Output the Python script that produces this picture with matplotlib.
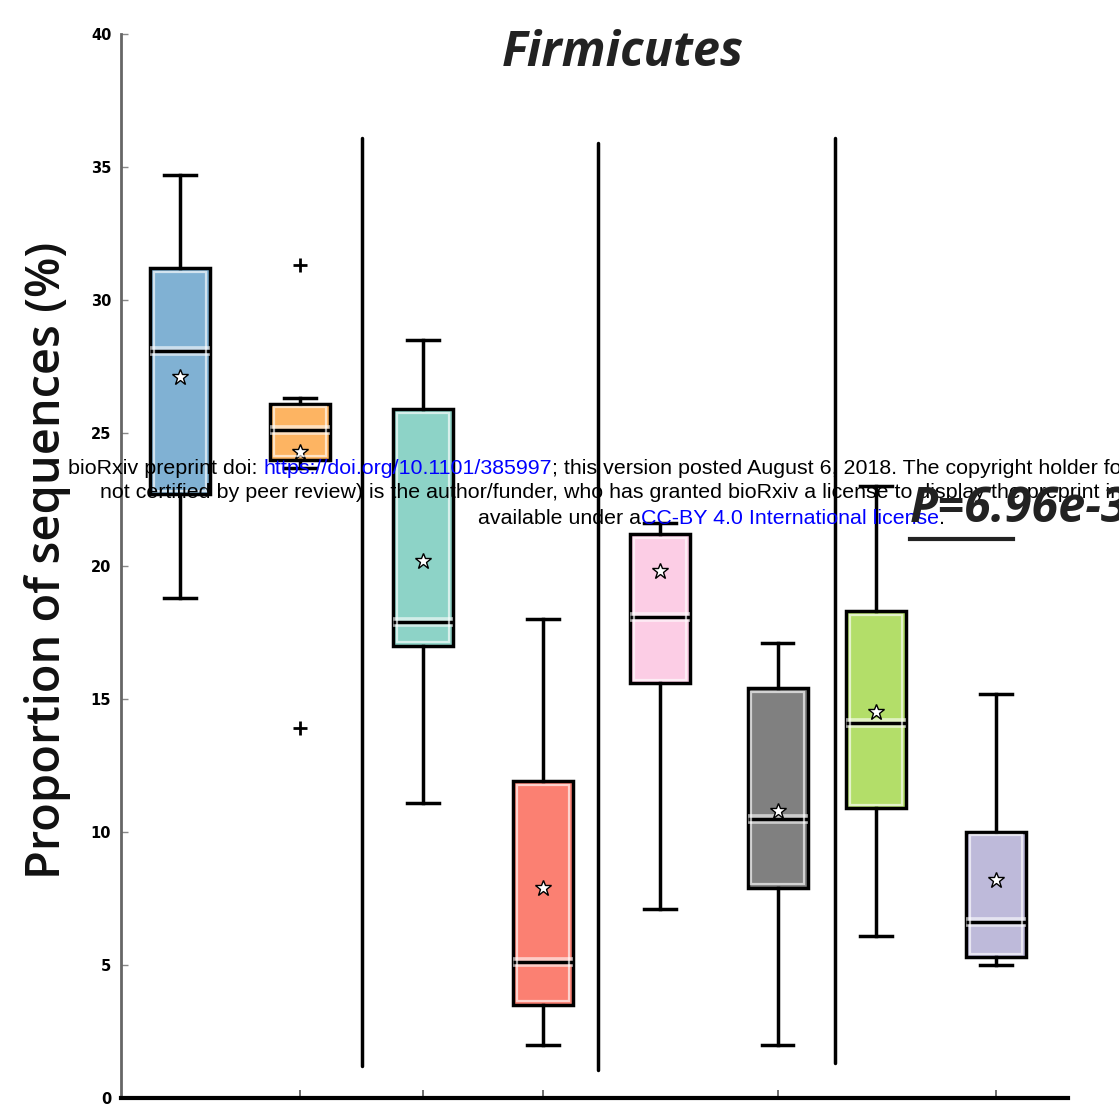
import matplotlib
matplotlib.use('Agg')
import matplotlib.pyplot as plt
import matplotlib.patheffects as pe
from matplotlib.lines import Line2D
from matplotlib.patches import Rectangle

# box statistics (% of sequences)
box_colors = ['#80b1d3', '#fdb462', '#8dd3c7', '#fb8072',
              '#fccde5', '#808080', '#b3de69', '#bebada']
medians = [28.1, 25.1, 17.9, 5.1, 18.1, 10.5, 14.1, 6.6]
q1 = [22.7, 24.0, 17.0, 3.5, 15.6, 7.9, 10.9, 5.3]
q3 = [31.2, 26.1, 25.9, 11.9, 21.2, 15.4, 18.3, 10.0]
whislo = [18.8, 23.7, 11.1, 2.0, 7.1, 2.0, 6.1, 5.0]
whishi = [34.7, 26.3, 28.5, 18.0, 21.6, 17.1, 23.0, 15.2]
means = [27.1, 24.3, 20.2, 7.9, 19.8, 10.8, 14.5, 8.2]
fliers = [[], [31.3, 13.9], [], [], [], [], [], []]

yticks = [0, 5, 10, 15, 20, 25, 30, 35, 40]
p_text = 'P=6.96e-3'

# layout (not data)
positions = [1, 2, 3.025, 4.025, 5, 5.98, 6.8, 7.8]
tick_pos = [2, 3.025, 4.025, 5.98, 7.8]
separators = [(2.517, 1.2, 36.1), (4.483, 1.05, 35.9), (6.458, 1.3, 36.1)]

fig = plt.figure(figsize=(11.19, 11.05), dpi=100)
ax = fig.add_axes([121 / 1119, 7 / 1105, 947 / 1119, 1064 / 1105])

stats = []
for i in range(len(medians)):
    stats.append(dict(med=medians[i], q1=q1[i], q3=q3[i], whislo=whislo[i],
                      whishi=whishi[i], mean=means[i], fliers=fliers[i]))

halo = [pe.Stroke(linewidth=7, foreground='white', alpha=0.6), pe.Normal()]
bp = ax.bxp(stats, positions=positions, widths=0.5, capwidths=0.26,
            patch_artist=True, showmeans=True,
            boxprops=dict(edgecolor='black', linewidth=2.5),
            whiskerprops=dict(color='black', linewidth=2.5),
            capprops=dict(color='black', linewidth=2.5),
            medianprops=dict(color='black', linewidth=2.5, solid_capstyle='butt',
                             path_effects=halo),
            meanprops=dict(marker='*', markerfacecolor='white',
                           markeredgecolor='black', markersize=12,
                           markeredgewidth=1),
            flierprops=dict(marker='+', markeredgecolor='black',
                            markersize=10, markeredgewidth=2))
for patch, c in zip(bp['boxes'], box_colors):
    patch.set_facecolor(c)
    # light inner rim just inside the black outline
    v = patch.get_path().vertices
    x0, x1 = v[:, 0].min(), v[:, 0].max()
    y0, y1 = v[:, 1].min(), v[:, 1].max()
    dx, dy = 0.03, 0.13
    ax.add_patch(Rectangle((x0 + dx, y0 + dy), (x1 - x0) - 2 * dx,
                           (y1 - y0) - 2 * dy, fill=False,
                           edgecolor='white', alpha=0.65, lw=1.6, zorder=2.5))

for x, y0, y1 in separators:
    ax.plot([x, x], [y0, y1], color='black', lw=2.5, solid_capstyle='round')

ax.set_xlim(0.508, 8.4)
ax.set_ylim(0, 40)
ax.set_yticks(yticks)
ax.set_xticks(tick_pos)
ax.set_xticklabels([])
ax.spines['top'].set_visible(False)
ax.spines['right'].set_visible(False)
ax.spines['left'].set_color('#666666')
ax.spines['left'].set_linewidth(2)
ax.spines['bottom'].set_color('black')
ax.spines['bottom'].set_linewidth(3)
ax.tick_params(axis='y', direction='in', length=5, width=1, color='#888888',
               labelsize=10.5, pad=7)
ax.tick_params(axis='x', direction='in', length=6, width=1.2, color='#555555')
for lab in ax.get_yticklabels():
    lab.set_fontweight('bold')

fig.text(623 / 1119, 1 - 53 / 1105, 'Firmicutes', ha='center', va='center',
         fontsize=35, fontweight='bold', fontstyle='italic', family='Open Sans',
         color='#222222')
fig.text(48 / 1119, 1 - 560 / 1105, 'Proportion of sequences (%)', rotation=90,
         ha='center', va='center', fontsize=33.8, fontweight='semibold',
         family='Open Sans', color='#111111')

fig.text(910 / 1119, 1 - 510 / 1105, p_text, ha='left', va='center',
         fontsize=35, fontweight='bold', fontstyle='italic', family='Open Sans',
         color='#222222')
fig.add_artist(Line2D([910 / 1119, 1013 / 1119], [1 - 539 / 1105] * 2,
                      transform=fig.transFigure, color='#222222', lw=3))

# bioRxiv watermark, pieced together so the links can be blue
wm = dict(fontsize=15.4, family='Liberation Sans', va='center', ha='left',
          annotation_clip=False, zorder=10)


def chain(pieces, x0, y0):
    prev = None
    for txt, col in pieces:
        if prev is None:
            prev = ax.annotate(txt, xy=(x0, 1105 - y0), xycoords='figure pixels',
                               color=col, **wm)
        else:
            prev = ax.annotate(txt, xy=(1, 0.5), xycoords=prev, color=col, **wm)


chain([('bioRxiv preprint doi: ', 'black'),
       ('https://doi.org/10.1101/385997', 'blue'),
       ('; this version posted August 6, 2018. The copyright holder fo', 'black')],
      68, 469)
chain([('not certified by peer review) is the author/funder, who has granted bioRxiv a license to display the preprint in', 'black')],
      100, 493)
chain([('available under a', 'black'),
       ('CC-BY 4.0 International license', 'blue'),
       ('.', 'black')],
      478, 518)

fig.savefig('out.png', dpi=100)
